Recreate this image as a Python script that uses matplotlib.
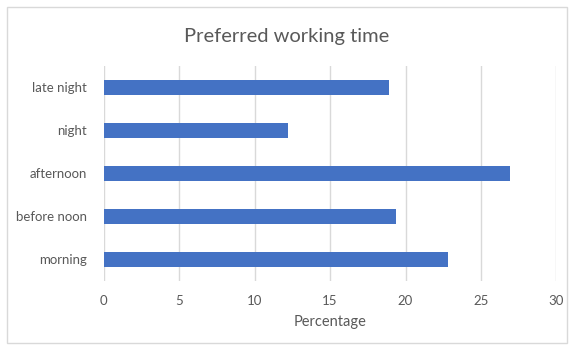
import matplotlib
matplotlib.use("Agg")
import matplotlib.pyplot as plt
from matplotlib.patches import Rectangle

categories = ["morning", "before noon", "afternoon", "night", "late night"]
values = [22.8, 19.4, 26.9, 12.2, 18.9]
xticks = [0, 5, 10, 15, 20, 25, 30]

plt.rcParams["font.family"] = ["Lato", "DejaVu Sans"]
gray = "#595959"

fig = plt.figure(figsize=(5.74, 3.49), dpi=100)
ax = fig.add_axes([0.1805, 0.195, 0.789, 0.616])

ax.barh(categories, values, height=0.35, color="#4472C4", zorder=3)
ax.set_xlim(0, 30)
ax.set_ylim(-0.5, len(categories) - 0.5)
ax.set_xticks(xticks)
ax.grid(axis="x", color="#d9d9d9", linewidth=1, zorder=0)
for s in ax.spines.values():
    s.set_visible(False)
ax.tick_params(length=0, colors=gray, labelsize=9.5)
ax.tick_params(axis="y", pad=12)
ax.tick_params(axis="x", pad=10)
ax.set_xlabel("Percentage", color=gray, fontsize=10.5, labelpad=6)
fig.suptitle("Preferred working time", color=gray, fontsize=14.5, y=0.92)

# chart border
fig.patches.append(Rectangle((7 / 574, 1 - 343 / 349), 560 / 574, 336 / 349,
                             transform=fig.transFigure, fill=False,
                             edgecolor="#d9d9d9", linewidth=1))

fig.savefig("out.png", dpi=100)
